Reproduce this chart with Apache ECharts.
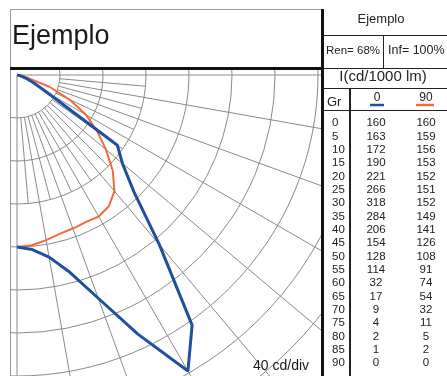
<!DOCTYPE html>
<html>
<head>
<meta charset="utf-8">
<script src="https://cdn.jsdelivr.net/npm/echarts@6/dist/echarts.min.js"></script>
<style>
html,body{margin:0;padding:0;background:#fff;}
#chart{width:447px;height:376px;}
</style>
</head>
<body>
<div id="chart"></div>
<script>
// ---- data ----
var angles = [0,5,10,15,20,25,30,35,40,45,50,55,60,65,70,75,80,85,90];
var c0  = [160,163,172,190,221,266,318,284,206,154,128,114,32,17,9,4,2,1,0];
var c90 = [160,159,156,153,152,151,152,149,141,126,108,91,74,54,32,11,5,2,0];
var title = 'Ejemplo';
var tableTitle = 'Ejemplo';
var renText = 'Ren= 68%';
var infText = 'Inf= 100%';
var unitText = 'I(cd/1000 lm)';
var planeLabels = ['0','90'];
var divText = '40 cd/div';
var gridCircles = 40;           // cd per division
var fineAngles = [5,15,25,35,45,55,65,75,85];
var mainAngles = [10,20,30,40,50,60,70,80];

var chart = echarts.init(document.getElementById('chart'), null, {renderer:'canvas'});

var gridColor = '#8a8a8a';
var series = [];
// radial grid lines
function radial(a, r0, r1){
  series.push({type:'line', coordinateSystem:'polar', silent:true, symbol:'none', animation:false, z:1,
    lineStyle:{color:gridColor, width:1}, data:[[r0,a],[r1,a]]});
}
radial(0, 0, 400);
radial(90, 0, 400);
mainAngles.forEach(function(a){ radial(a, 40, 400); });
fineAngles.forEach(function(a){ radial(a, 40, 120); });

series.push({type:'line', coordinateSystem:'polar', symbol:'none', animation:false, z:3,
  lineStyle:{color:'#f26a3b', width:2}, data: angles.map(function(a,i){return [c90[i], a];})});
series.push({type:'line', coordinateSystem:'polar', symbol:'none', animation:false, z:4,
  lineStyle:{color:'#1f4f9e', width:3}, data: angles.map(function(a,i){return [c0[i], a];})});

// ---- graphic: masks, frame, table ----
var G = [];
var Z = 100;
function rect(x,y,w,h,fill,stroke,lw){ G.push({type:'rect', z:Z, silent:true, shape:{x:x,y:y,width:w,height:h}, style:{fill:fill||'none', stroke:stroke||null, lineWidth:lw||0}}); }
function line(x1,y1,x2,y2,color,lw){ G.push({type:'line', z:Z+1, silent:true, shape:{x1:x1,y1:y1,x2:x2,y2:y2}, style:{stroke:color, lineWidth:lw}}); }
function text(t,x,y,size,align,color,valign){ G.push({type:'text', z:Z+2, silent:true, x:x, y:y, style:{text:t, fill:color||'#222', font:size+'px "Liberation Sans", Arial, sans-serif', textAlign:align||'left', textVerticalAlign:valign||'middle'}}); }

// masks
rect(0,0,447,68,'#fff');
rect(0,0,10,376,'#fff');
rect(322,0,125,376,'#fff');

// title box
line(10.5,9,10.5,376,'#9a9a9a',1);
line(10,9.5,322,9.5,'#9a9a9a',1);
text(title, 12, 37, 27, 'left', '#1a1a1a');
// thick frame lines
line(10,68.5,323,68.5,'#111',3);
line(322.5,9,322.5,376,'#111',3);

// table
text(tableTitle, 381, 19, 13, 'center');
line(322,35.5,447,35.5,'#222',1);
text(renText, 353, 51, 11.5, 'center');
line(383.5,35,383.5,68,'#222',1);
text(infText, 388, 51, 12.5, 'left');
line(322,68.5,447,68.5,'#222',1);
text(unitText, 383, 77, 15, 'center');
line(322,88.5,447,88.5,'#222',1);
text('Gr', 327, 102, 13, 'left');
line(350,88,350,376,'#222',2);
text(planeLabels[0], 377, 98, 12, 'center');
line(370,105,384,105,'#1f4f9e',2.5);
text(planeLabels[1], 426, 98, 12, 'center');
line(416,105,434,105,'#f26a3b',2.5);
line(322,110.5,447,110.5,'#222',1);
var rowY0 = 123, rowStep = 13.35;
angles.forEach(function(a,i){
  var y = rowY0 + i*rowStep;
  text(String(a), 332, y, 11.5, 'left');
  text(String(c0[i]), 376, y, 11.5, 'center');
  text(String(c90[i]), 426, y, 11.5, 'center');
});
text(divText, 253, 366, 14, 'left', '#1a1a1a');

chart.setOption({
  backgroundColor:'#fff',
  animation:false,
  polar:{center:[17,75], radius:430},
  angleAxis:{type:'value', min:0, max:360, startAngle:270, clockwise:false,
    axisLine:{show:false}, axisTick:{show:false}, axisLabel:{show:false}, splitLine:{show:false}},
  radiusAxis:{type:'value', min:0, max:400, interval:gridCircles,
    axisLine:{show:false}, axisTick:{show:false}, axisLabel:{show:false},
    splitLine:{show:true, lineStyle:{color:gridColor, width:1}}},
  series: series,
  graphic: G
});
</script>
</body>
</html>
